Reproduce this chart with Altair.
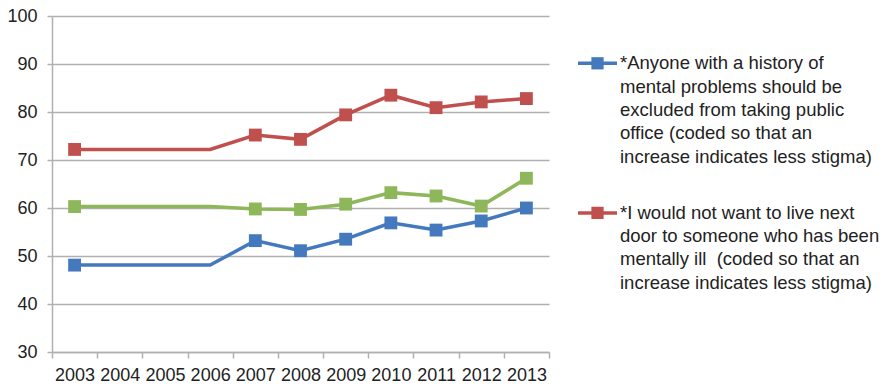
import altair as alt
import pandas as pd

# ---------------- data ----------------
years = [str(y) for y in range(2003, 2014)]
marker_years = ["2003", "2007", "2008", "2009", "2010", "2011", "2012", "2013"]

series_keys = ["office", "nextdoor", "other"]
series_colors = ["#4479BD", "#C0504D", "#8EB65A"]

office_vals = [48.1, 48.1, 48.1, 48.1, 53.2, 51.1, 53.5, 56.9, 55.4, 57.3, 60.0]
nextdoor_vals = [72.2, 72.2, 72.2, 72.2, 75.2, 74.3, 79.4, 83.5, 80.9, 82.1, 82.8]
other_vals = [60.3, 60.3, 60.3, 60.3, 59.8, 59.7, 60.8, 63.2, 62.5, 60.4, 66.2]

legend_office = [
    "*Anyone with a history of",
    "mental problems should be",
    "excluded from taking public",
    "office (coded so that an",
    "increase indicates less stigma)",
]
legend_nextdoor = [
    "*I would not want to live next",
    "door to someone who has been",
    "mentally ill\u00a0 (coded so that an",
    "increase indicates less stigma)",
]

y_ticks = [30, 40, 50, 60, 70, 80, 90, 100]

# ---------------- tables ----------------
rows = []
for key, vals in zip(series_keys, [office_vals, nextdoor_vals, other_vals]):
    for yr, v in zip(years, vals):
        rows.append({"series": key, "year": yr, "value": v,
                     "marker": yr in marker_years})
df = pd.DataFrame(rows)

FONT = "Liberation Sans"
GRID = "#B0B0B0"

color_scale = alt.Scale(domain=series_keys, range=series_colors)

x_enc = alt.X("year:N", sort=years,
              scale=alt.Scale(paddingInner=0, paddingOuter=0),
              axis=alt.Axis(title=None, labelAngle=0, tickBand="extent",
                            labelFontSize=18, labelFont=FONT, labelColor="#222222",
                            labelPadding=8, tickSize=6, tickColor=GRID,
                            domainColor=GRID, domainWidth=1.5, tickWidth=1.5,
                            grid=False))
y_enc = alt.Y("value:Q",
              scale=alt.Scale(domain=[30, 100], nice=False, zero=False),
              axis=alt.Axis(title=None, values=y_ticks, labelFontSize=18,
                            labelFont=FONT, labelColor="#222222", labelPadding=10,
                            tickSize=5, tickColor=GRID, tickWidth=1.5,
                            domainColor=GRID, domainWidth=1.5,
                            grid=True, gridColor=GRID, gridWidth=1.5))

lines = alt.Chart(df).mark_line(strokeWidth=3.5).encode(
    x=x_enc, y=y_enc,
    color=alt.Color("series:N", scale=color_scale, legend=None),
    detail="series:N",
)
points = alt.Chart(df).transform_filter("datum.marker").mark_point(
    shape="square", filled=True, size=165, opacity=1
).encode(
    x=alt.X("year:N", sort=years), y="value:Q",
    color=alt.Color("series:N", scale=color_scale, legend=None),
)
plot = alt.layer(lines, points).properties(width=497, height=336)

# ---------------- legend panel ----------------
leg_rows = []
sym_rows = []
item_offsets = [0.0, 6.42]
for key, txt_lines, off in zip(series_keys[:2], [legend_office, legend_nextdoor], item_offsets):
    for j, t in enumerate(txt_lines):
        leg_rows.append({"series": key, "pos": off + j, "text": t})
    sym_rows.append({"series": key, "pos": off})
leg_df = pd.DataFrame(leg_rows)
sym_df = pd.DataFrame(sym_rows)

ly = alt.Y("pos:Q", axis=None,
           scale=alt.Scale(domain=[-2.03, 12.39], nice=False, zero=False, reverse=True))

leg_text = alt.Chart(leg_df).mark_text(
    align="left", baseline="middle", fontSize=18.5, font=FONT, color="#222222"
).encode(x=alt.value(50), y=ly, text="text:N")

leg_line = alt.Chart(sym_df).mark_rule(strokeWidth=3.5).encode(
    x=alt.value(8), x2=alt.value(47), y=ly,
    color=alt.Color("series:N", scale=color_scale, legend=None),
)
leg_pt = alt.Chart(sym_df).mark_point(
    shape="square", filled=True, size=150, opacity=1
).encode(
    x=alt.value(27.5), y=ly,
    color=alt.Color("series:N", scale=color_scale, legend=None),
)
legend_panel = alt.layer(leg_line, leg_pt, leg_text).properties(width=300, height=336)

chart = alt.hconcat(plot, legend_panel, spacing=20).properties(
    padding={"left": 6, "top": 7, "right": 0, "bottom": 0},
    background="white",
).configure_view(strokeWidth=0, stroke="transparent")

chart.save("out.html", embed_options={"renderer": "svg", "actions": False})
